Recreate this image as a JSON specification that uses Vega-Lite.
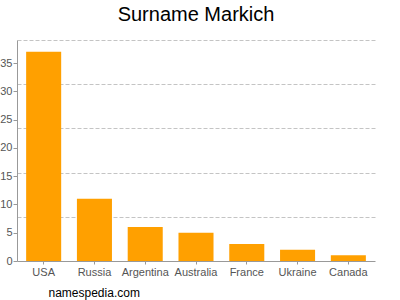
{
  "$schema": "https://vega.github.io/schema/vega-lite/v6.json",
  "autosize": "none",
  "width": 358,
  "height": 221,
  "padding": {"left": 17, "top": 40, "right": 25, "bottom": 39},
  "background": "white",
  "title": {
    "text": "Surname Markich",
    "font": "Liberation Sans",
    "fontSize": 20,
    "fontWeight": "normal",
    "color": "#000000",
    "anchor": "middle",
    "baseline": "alphabetic",
    "frame": "group",
    "offset": 0,
    "dy": 7
  },
  "config": {
    "view": {"stroke": null},
    "axis": {
      "labelFont": "Liberation Sans",
      "labelFontSize": 11,
      "labelColor": "#555555",
      "domainColor": "#999999",
      "tickColor": "#999999"
    }
  },
  "data": {
    "values": [
      {"country": "USA", "count": 37},
      {"country": "Russia", "count": 11},
      {"country": "Argentina", "count": 6},
      {"country": "Australia", "count": 5},
      {"country": "France", "count": 3},
      {"country": "Ukraine", "count": 2},
      {"country": "Canada", "count": 1}
    ]
  },
  "mark": {"type": "bar", "color": "#ffa000"},
  "encoding": {
    "x": {
      "field": "country",
      "type": "nominal",
      "sort": null,
      "scale": {"paddingInner": 0.31, "paddingOuter": 0.18},
      "axis": {
        "labelAngle": 0,
        "tickSize": 3,
        "labelPadding": 2,
        "title": "namespedia.com",
        "titleFont": "Liberation Sans",
        "titleFontSize": 12,
        "titleFontWeight": "normal",
        "titleColor": "#000000",
        "titleAnchor": "start",
        "titleAlign": "left",
        "titleBaseline": "alphabetic",
        "titleX": 31,
        "titleY": 35
      }
    },
    "y": {
      "field": "count",
      "type": "quantitative",
      "scale": {"domain": [0, 39.1], "nice": false},
      "axis": {
        "title": null,
        "values": [0, 5, 7.82, 10, 15, 15.64, 20, 23.46, 25, 30, 31.28, 35, 39.1],
        "labelExpr": "datum.value % 5 == 0 ? datum.label : ''",
        "labelOverlap": false,
        "labelPadding": 1,
        "tickSize": 4,
        "tickOpacity": {"condition": {"test": "datum.value % 5 == 0", "value": 1}, "value": 0},
        "grid": true,
        "gridColor": "#c4c4c4",
        "gridDash": [4, 2],
        "gridOpacity": {"condition": {"test": "datum.value % 5 != 0", "value": 1}, "value": 0}
      }
    }
  }
}
